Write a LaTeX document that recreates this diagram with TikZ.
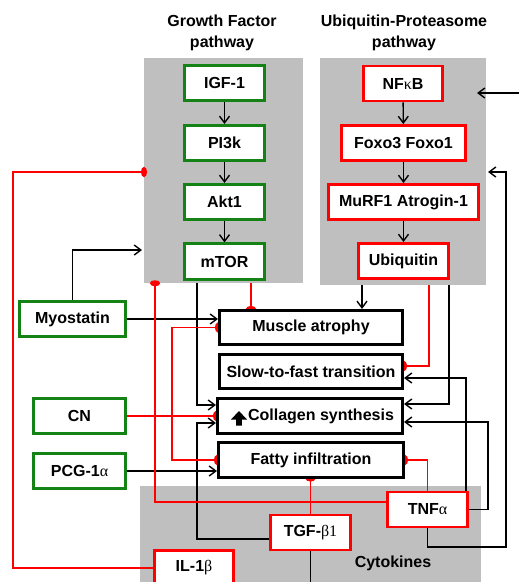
\documentclass[tikz,border=0pt]{standalone}
\usepackage{fontspec}
\setmainfont{Liberation Sans}
\newfontfamily\grk{Liberation Serif}
\usetikzlibrary{arrows.meta,calc,backgrounds,fit}
\definecolor{gbox}{RGB}{20,130,20}
\definecolor{rbox}{RGB}{255,0,0}
\definecolor{panelgray}{RGB}{191,191,191}
\begin{document}
\begin{tikzpicture}[x=0.75pt,y=-0.75pt,
  font=\fontsize{12pt}{15.75pt}\selectfont\bfseries,
  panel/.style={fill=panelgray,draw=none,inner sep=0pt},
  gb/.style={draw=gbox,line width=1.9pt,fill=white,inner sep=0pt,
    minimum width=(#1-2.5)*0.75pt,minimum height=35.5*0.75pt},
  rb/.style={draw=rbox,line width=2.2pt,fill=white,inner sep=0pt,
    minimum width=(#1-3)*0.75pt,minimum height=35*0.75pt},
  kb/.style={draw=black,line width=1.9pt,fill=white,inner sep=0pt,
    minimum width=(#1-2.5)*0.75pt,minimum height=34.5*0.75pt},
  arr/.style={draw=black,line width=1.05pt,-{Straight Barb[length=5pt,width=7.5pt]}},
  plain/.style={draw=black,line width=1.05pt},
  inh/.style={draw=rbox,line width=1.15pt,-{Ellipse[length=4.5pt,width=7.5pt]},shorten >=-2.25pt},
  inhb/.style={draw=rbox,line width=1.15pt,{Ellipse[length=4.5pt,width=7.5pt]}-{Ellipse[length=4.5pt,width=7.5pt]},shorten >=-2.25pt,shorten <=-2.25pt},
  lbl/.style={inner sep=0pt,align=center}
]
\useasboundingbox (0,0) rectangle (519,582);

% panels
\begin{pgfonlayer}{background}
\node[panel,fit={(144,58) (303,283)}] (gf) {};
\node[panel,fit={(320,58) (486,285)}] (up) {};
\node[panel,fit={(140,486) (481,600)}] (cyt) {};
\end{pgfonlayer}

% titles
\node[lbl] (t1) at (222,32.5) {Growth Factor\\pathway};
\node[lbl] (t2) at (404,32.5) {Ubiquitin-Proteasome\\pathway};
\node[lbl] (t3) at (393,563) {Cytokines};

% growth factor pathway
\node[gb=83] (igf) at (224.5,83) {IGF-1};
\node[gb=83] (pi3k) at (224.5,143) {PI3k};
\node[gb=83] (akt) at (224.5,202) {Akt1};
\node[gb=83] (mtor) at (224.5,261.5) {mTOR};

% ubiquitin pathway
\node[rb=82] (nfkb) at (403,83.5) {NF{\grk\mdseries κ}B};
\node[rb=127] (foxo) at (403.5,143) {Foxo3 Foxo1};
\node[rb=153] (murf) at (403.5,202) {MuRF1 Atrogin-1};
\node[rb=93] (ubq) at (403.5,261) {Ubiquitin};

% left column
\node[gb=109] (myo) at (72.5,319) {Myostatin};
\node[gb=95] (cn) at (79.5,416) {CN};
\node[gb=95] (pcg) at (79.5,471) {PCG-1{\grk\mdseries α}};
\node[rb=82] (il) at (194,568) {IL-1{\grk\mdseries β}};

% outcomes
\node[kb=186] (atrophy) at (311,327.5) {Muscle atrophy};
\node[kb=186] (slow) at (311,371.5) {Slow-to-fast transition};
\node[kb=188] (coll) at (310,416) {\hspace*{16.5pt}Collagen synthesis};
\node[kb=188] (fatty) at (311,460) {Fatty infiltration};

% cytokines
\node[rb=83] (tnf) at (427.5,509.5) {TNF{\grk\mdseries α}};
\node[rb=83] (tgf) at (310.5,532.5) {TGF-{\grk\mdseries β1}};

% up arrow in collagen box
\fill (239,411) -- (247,419.5) -- (241.8,419.5) -- (241.8,425.5) -- (236.2,425.5)
  -- (236.2,419.5) -- (231,419.5) -- cycle;

% helper coordinates
\coordinate (gfin) at (142,250);
\coordinate (upin1) at (477,93);
\coordinate (rin1) at (519,93);
\coordinate (upin2) at (488,172);
\coordinate (gfl) at (144,172);
\coordinate (bot) at (0,582);

\begin{pgfonlayer}{background}
% black connectors
\draw[arr] (igf) -- (pi3k);
\draw[arr] (pi3k) -- (akt);
\draw[arr] (akt) -- (mtor);
\draw[arr] (nfkb) -- (foxo);
\draw[arr] (foxo) -- (murf);
\draw[arr] (murf) -- (ubq);
\draw[arr] (rin1) -- (upin1);
\draw[arr] (myo.north) |- (gfin);
\draw[arr] (myo.east) -- (myo.east -| atrophy.west);
\draw[arr] (197,0 |- gf.south) |- ($(coll.west)+(0,-11)$);
\draw[arr] ($(tgf.west)+(0,6.5)$) -| ($(coll.west)+(-19,7)$) -- ($(coll.west)+(0,7)$);
\draw[arr] (pcg.east) -- (pcg.east -| fatty.west);
\draw[arr] (362,0 |- up.south) -- (362,0 |- atrophy.north);
\draw[arr] (449,0 |- up.south) |- ($(coll.east)+(0,-12)$);
\draw[arr] (466,0 |- tnf.north) |- ($(slow.east)+(0,6.5)$);
\draw[arr] (tnf.east) -| ($(coll.east)+(84,6)$) -- ($(coll.east)+(0,6)$);
\draw[arr] (tnf.south) |- (506,547) |- (upin2);
\draw[plain] (tgf.south) -- (tgf.south |- bot);

% red inhibitory connectors
\draw[inh] (251,0 |- gf.south) -- (251,0 |- atrophy.north);
\draw[inh] ($(tnf.west)+(0,-7.5)$) -| (155,0 |- gf.south);
\draw[inh] (cn.east) -- (cn.east -| coll.west);
\draw[inhb] (atrophy.west) -| (172,0 |- fatty.west) -- (fatty.west);
\draw[inh] (tnf.north) |- (fatty.east);
\draw[inh] (tgf.north) -- (tgf.north |- fatty.south);
\draw[inh] (il.west) -| (13,0 |- gfl) -- (gfl);
\draw[inh] (429,0 |- up.south) |- ($(slow.east)+(0,-5.5)$);
\end{pgfonlayer}
\end{tikzpicture}
\end{document}
